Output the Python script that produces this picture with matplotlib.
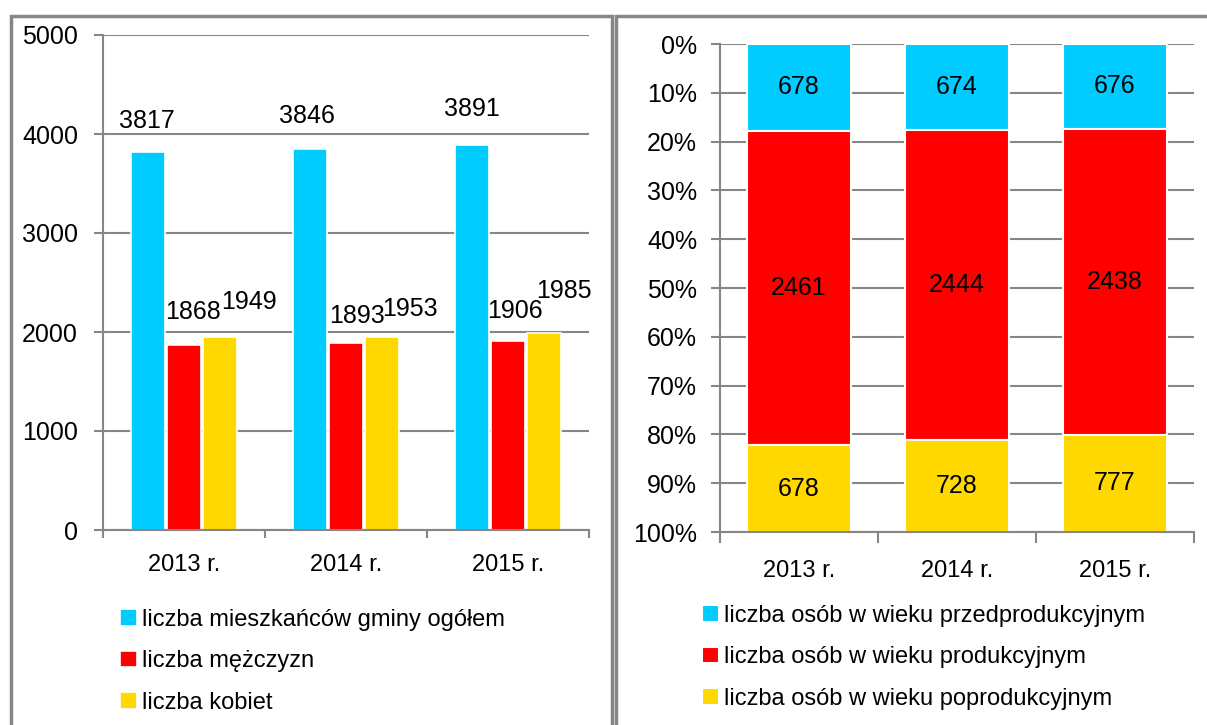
import matplotlib
matplotlib.use("Agg")
import matplotlib.pyplot as plt
from matplotlib.patches import Rectangle
import numpy as np

# data
years = ["2013 r.", "2014 r.", "2015 r."]
total = [3817, 3846, 3891]
men = [1868, 1893, 1906]
women = [1949, 1953, 1985]
pre_prod = [678, 674, 676]
prod = [2461, 2444, 2438]
post_prod = [678, 728, 777]

left_labels = ["liczba mieszkańców gminy ogółem", "liczba mężczyzn", "liczba kobiet"]
right_labels = ["liczba osób w wieku przedprodukcyjnym",
                "liczba osób w wieku produkcyjnym",
                "liczba osób w wieku poprodukcyjnym"]

# label nudges in pixels (dx, dy) - the original labels dodge each other
label_offsets = [
    [(-1, 31), (-3, 33), (0, 36)],
    [(9, 33), (11, 27), (7, 30)],
    [(29, 35), (28, 28), (20, 42)],
]

BLUE = "#00CCFF"
RED = "#FF0000"
YELLOW = "#FFD800"
GRID = "#868686"

plt.rcParams['font.family'] = ['Liberation Sans', 'DejaVu Sans']
FS = 18
FS_SMALL = 17

W, H = 1207, 725
fig = plt.figure(figsize=(W / 100, H / 100), dpi=100)


def px_axes(x0, y0, x1, y1):
    return fig.add_axes([x0 / W, 1 - y1 / H, (x1 - x0) / W, (y1 - y0) / H])


def style_axes(ax, xlen, xpad, ypad):
    for s in ["top", "right"]:
        ax.spines[s].set_visible(False)
    for s in ["left", "bottom"]:
        ax.spines[s].set_color(GRID)
        ax.spines[s].set_linewidth(1.5)
    ax.set_xlim(-0.5, 2.5)
    ax.set_xticks([-0.5, 0.5, 1.5, 2.5])
    ax.set_xticklabels([])
    ax.set_xticks(range(3), minor=True)
    ax.set_xticklabels(years, minor=True, fontsize=FS_SMALL)
    ax.tick_params(axis="x", which="major", length=xlen, width=1.5, color=GRID)
    ax.tick_params(axis="x", which="minor", length=0, pad=xpad)
    ax.tick_params(axis="y", length=6.5, width=1.5, color=GRID, labelsize=FS, pad=ypad)
    ax.yaxis.grid(True, color=GRID, linewidth=1.5)
    ax.set_axisbelow(True)


# left chart
ax1 = px_axes(103, 35, 589, 530)
x = np.arange(len(years))
step = 0.222
bw = 0.21
series1 = [total, men, women]
colors = [BLUE, RED, YELLOW]
handles1 = []
for i, (vals, col) in enumerate(zip(series1, colors)):
    b = ax1.bar(x + (i - 1) * step, vals, bw, color=col, edgecolor="white", linewidth=1.2)
    handles1.append(b)
    for xi, v, off in zip(x + (i - 1) * step, vals, label_offsets[i]):
        ax1.annotate(str(v), (xi, v), xytext=off, textcoords="offset pixels",
                     ha="center", va="center", fontsize=FS)
ax1.set_ylim(0, 5000)
ax1.set_yticks(range(0, 5001, 1000))
style_axes(ax1, 6, 17.6, 11.5)

# right chart
ax2 = px_axes(720, 44, 1194, 532)
sums = np.array(pre_prod) + np.array(prod) + np.array(post_prod)
series2 = [pre_prod, prod, post_prod]
bottom = np.zeros(3)
handles2 = []
for vals, col in zip(series2, colors):
    frac = np.array(vals) / sums
    b = ax2.bar(x, frac, 0.66, bottom=bottom, color=col, edgecolor="white", linewidth=1.5)
    handles2.append(b)
    for xi, f, bt, v in zip(x, frac, bottom, vals):
        ax2.text(xi, bt + f / 2, str(v), ha="center", va="center", fontsize=FS)
    bottom += frac
ax2.set_ylim(1, 0)
ticks = np.arange(0, 1.01, 0.1)
ax2.set_yticks(ticks)
ax2.set_yticklabels([f"{int(round(t * 100))}%" for t in ticks])
style_axes(ax2, 8, 20.2, 10)

# legends
leg_kw = dict(loc="upper left", frameon=False, fontsize=FS_SMALL, borderpad=0, borderaxespad=0,
              handlelength=0.7, handleheight=0.7, handletextpad=0.25, labelspacing=0.82)
fig.legend(handles1, left_labels, bbox_to_anchor=(120 / W, 1 - 609 / H), **leg_kw)
fig.legend(handles2, right_labels, bbox_to_anchor=(702 / W, 1 - 605 / H), **leg_kw)

# panel borders
for x0, x1 in [(11, 612), (616, 1215)]:
    fig.patches.append(Rectangle((x0 / W, -0.05), (x1 - x0) / W, 1.05 - 16 / H,
                                 transform=fig.transFigure, fill=False,
                                 edgecolor=GRID, linewidth=2.5))

fig.savefig("out.png", dpi=100)
